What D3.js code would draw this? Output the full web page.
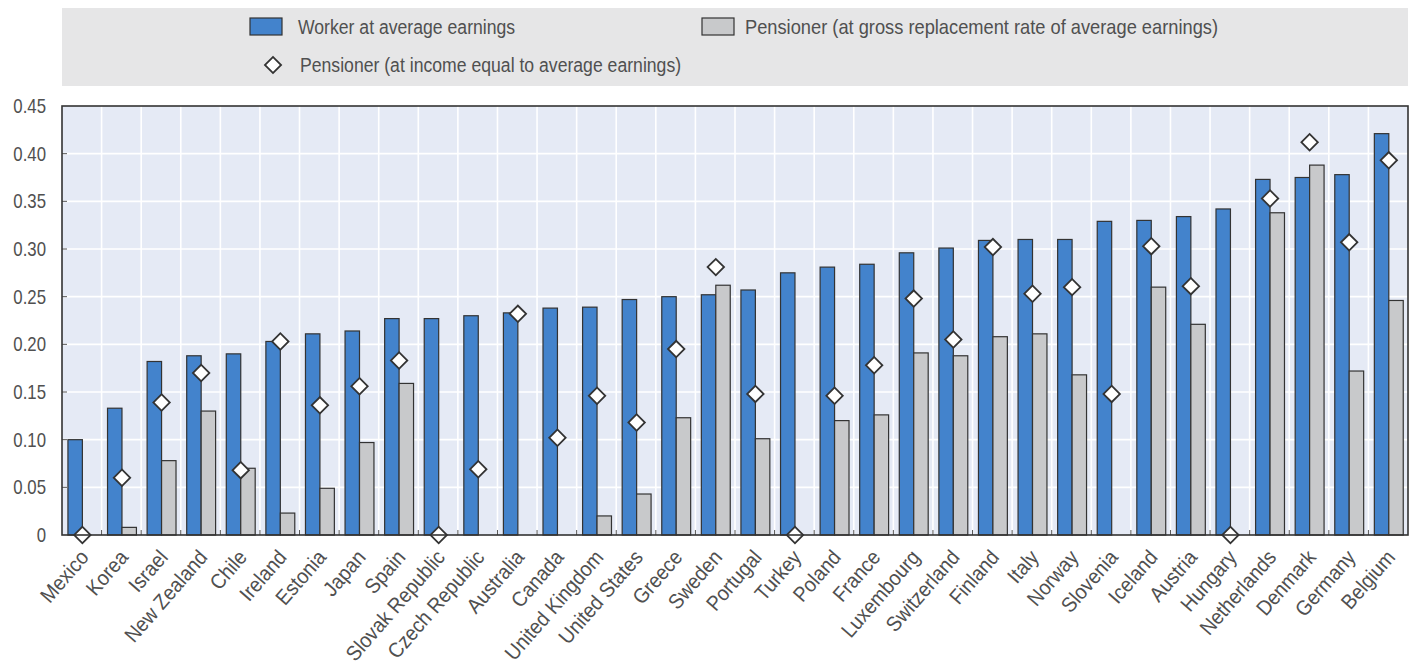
<!DOCTYPE html>
<html>
<head>
<meta charset="utf-8">
<script src="https://cdn.jsdelivr.net/npm/d3@7"></script>
<style>
  body { margin: 0; background: #fff; }
  svg { display: block; }
</style>
</head>
<body>
<div id="chart"></div>
<script>
var countries = ["Mexico", "Korea", "Israel", "New Zealand", "Chile", "Ireland", "Estonia", "Japan",
  "Spain", "Slovak Republic", "Czech Republic", "Australia", "Canada", "United Kingdom",
  "United States", "Greece", "Sweden", "Portugal", "Turkey", "Poland", "France", "Luxembourg",
  "Switzerland", "Finland", "Italy", "Norway", "Slovenia", "Iceland", "Austria", "Hungary",
  "Netherlands", "Denmark", "Germany", "Belgium"];

var worker = [0.100, 0.133, 0.182, 0.188, 0.190, 0.203, 0.211, 0.214, 0.227, 0.227, 0.230, 0.233,
  0.238, 0.239, 0.247, 0.250, 0.252, 0.257, 0.275, 0.281, 0.284, 0.296, 0.301, 0.309, 0.310,
  0.310, 0.329, 0.330, 0.334, 0.342, 0.373, 0.375, 0.378, 0.421];

var pensionerGross = [0, 0.008, 0.078, 0.130, 0.070, 0.023, 0.049, 0.097, 0.159, 0, 0, 0, 0,
  0.020, 0.043, 0.123, 0.262, 0.101, 0, 0.120, 0.126, 0.191, 0.188, 0.208, 0.211, 0.168, 0,
  0.260, 0.221, 0, 0.338, 0.388, 0.172, 0.246];

var pensionerIncome = [0, 0.060, 0.139, 0.170, 0.068, 0.203, 0.136, 0.156, 0.183, 0, 0.069,
  0.232, 0.102, 0.146, 0.118, 0.195, 0.281, 0.148, 0, 0.146, 0.178, 0.248, 0.205, 0.302, 0.253,
  0.260, 0.148, 0.303, 0.261, 0, 0.353, 0.412, 0.307, 0.393];

var yTicks = [0, 0.05, 0.10, 0.15, 0.20, 0.25, 0.30, 0.35, 0.40, 0.45];

var legendLabels = ["Worker at average earnings",
  "Pensioner (at gross replacement rate of average earnings)",
  "Pensioner (at income equal to average earnings)"];

var blueFill = "#4383cc";
var greyFill = "#c8c9cb";
var darkStroke = "#333";
var plotBg = "#e5eaf5";
var textColor = "#505050";
// no narrow font installed, so the text is squeezed horizontally instead
var fontFamily = "'Liberation Sans', Arial, sans-serif";
var squeeze = 0.84;

const width = 1415;
const height = 670;
const margin = { top: 106, right: 7, bottom: 135, left: 62 };

function textAttr(selection, fill, size) {
  selection
    .attr("fill", fill)
    .attr("font-family", fontFamily)
    .attr("font-size", size);
}

function legendText(g, x, y, label, sx) {
  g.append("text")
    .attr("transform", `translate(${x},${y}) scale(${sx || squeeze},1)`)
    .attr("dy", "0.35em")
    .text(label)
    .call(textAttr, textColor, "21px");
}

let svg = d3.select("#chart")
  .append("svg")
  .attr("width", width)
  .attr("height", height);

let x = d3.scaleBand()
  .domain(countries)
  .range([margin.left, width - margin.right])
  .padding(0);

let xs = d3.scaleBand()
  .domain(["worker", "gross"])
  .range([x.bandwidth() * 0.15, x.bandwidth() * 0.88]);

let y = d3.scaleLinear()
  .domain([0, 0.45])
  .range([height - margin.bottom, margin.top]);

let rows = countries.map((c, i) => ({
  country: c,
  worker: worker[i],
  gross: pensionerGross[i],
  income: pensionerIncome[i]
}));

// legend box
let legend = svg.append("g");
legend.append("rect")
  .attr("x", margin.left)
  .attr("y", 8)
  .attr("width", width - margin.right - margin.left)
  .attr("height", 78)
  .attr("fill", "#e6e6e7");

legend.append("rect")
  .attr("x", 250).attr("y", 18)
  .attr("width", 32).attr("height", 17)
  .attr("fill", blueFill).attr("stroke", darkStroke).attr("stroke-width", 1.2);
legendText(legend, 298, 27, legendLabels[0]);

legend.append("rect")
  .attr("x", 702).attr("y", 18)
  .attr("width", 32).attr("height", 17)
  .attr("fill", greyFill).attr("stroke", darkStroke).attr("stroke-width", 1.2);
legendText(legend, 745, 27, legendLabels[1], 0.87);

legend.append("path")
  .attr("d", d3.symbol(d3.symbolSquare, 130)())
  .attr("transform", "translate(273,65) rotate(45)")
  .attr("fill", "#fff").attr("stroke", darkStroke).attr("stroke-width", 1.8);
legendText(legend, 300, 65, legendLabels[2]);

// plot background and grid
svg.append("rect")
  .attr("x", margin.left)
  .attr("y", margin.top)
  .attr("width", width - margin.right - margin.left)
  .attr("height", y(0) - margin.top)
  .attr("fill", plotBg);

svg.append("g")
  .selectAll("line")
  .data(yTicks.slice(1, -1))
  .enter()
  .append("line")
  .attr("x1", margin.left).attr("x2", width - margin.right)
  .attr("y1", d => y(d)).attr("y2", d => y(d))
  .attr("stroke", "#fff").attr("stroke-width", 1.6);

svg.append("g")
  .selectAll("line")
  .data(countries.slice(1))
  .enter()
  .append("line")
  .attr("x1", d => x(d)).attr("x2", d => x(d))
  .attr("y1", margin.top).attr("y2", y(0))
  .attr("stroke", "#fff").attr("stroke-width", 1.6);

// bars
let groups = svg.append("g")
  .selectAll("g")
  .data(rows)
  .enter()
  .append("g")
  .attr("transform", d => `translate(${x(d.country)},0)`);

groups.append("rect")
  .attr("x", xs("worker"))
  .attr("y", d => y(d.worker))
  .attr("width", xs.bandwidth())
  .attr("height", d => y(0) - y(d.worker))
  .attr("fill", blueFill)
  .attr("stroke", darkStroke)
  .attr("stroke-width", 1.2);

groups.filter(d => d.gross > 0)
  .append("rect")
  .attr("x", xs("gross"))
  .attr("y", d => y(d.gross))
  .attr("width", xs.bandwidth())
  .attr("height", d => y(0) - y(d.gross))
  .attr("fill", greyFill)
  .attr("stroke", darkStroke)
  .attr("stroke-width", 1.2);

// small ticks along the bottom and left
svg.append("g")
  .selectAll("line")
  .data(countries.slice(1))
  .enter()
  .append("line")
  .attr("x1", d => x(d)).attr("x2", d => x(d))
  .attr("y1", y(0)).attr("y2", y(0) - 5)
  .attr("stroke", "#555").attr("stroke-width", 1);

svg.append("g")
  .selectAll("line")
  .data(yTicks.slice(1, -1))
  .enter()
  .append("line")
  .attr("x1", margin.left).attr("x2", margin.left + 5)
  .attr("y1", d => y(d)).attr("y2", d => y(d))
  .attr("stroke", "#555").attr("stroke-width", 1);

// frame
svg.append("rect")
  .attr("x", margin.left)
  .attr("y", margin.top)
  .attr("width", width - margin.right - margin.left)
  .attr("height", y(0) - margin.top)
  .attr("fill", "none")
  .attr("stroke", darkStroke)
  .attr("stroke-width", 1.6);

// diamonds
groups.append("path")
  .attr("d", d3.symbol(d3.symbolSquare, 135)())
  .attr("transform", d => `translate(${xs("gross")},${y(d.income)}) rotate(45)`)
  .attr("fill", "#fff")
  .attr("stroke", darkStroke)
  .attr("stroke-width", 1.8);

// y labels
svg.append("g")
  .selectAll("text")
  .data(yTicks)
  .enter()
  .append("text")
  .attr("transform", d => `translate(46,${y(d)}) scale(${squeeze},1)`)
  .attr("dy", "0.35em")
  .attr("text-anchor", "end")
  .text(d => d === 0 ? "0" : d3.format(".2f")(d))
  .call(textAttr, textColor, "20px");

// x labels
svg.append("g")
  .selectAll("text")
  .data(countries)
  .enter()
  .append("text")
  .attr("text-anchor", "end")
  .attr("transform", d => `translate(${x(d) + x.bandwidth() / 2 + 8},${y(0) + 23}) rotate(-49) scale(0.92,1)`)
  .text(d => d)
  .call(textAttr, textColor, "21px");
</script>
</body>
</html>
